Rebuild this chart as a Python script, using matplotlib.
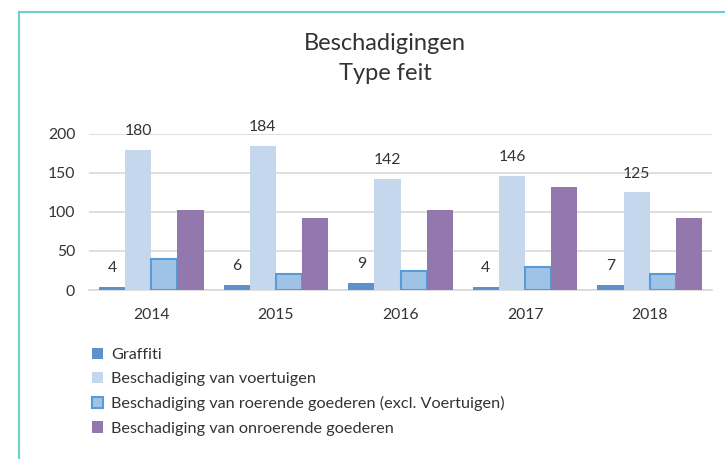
import numpy as np
import matplotlib
matplotlib.use('Agg')
import matplotlib.pyplot as plt
from matplotlib.lines import Line2D
from matplotlib.patches import Patch

plt.rcParams['font.family'] = ['Lato', 'DejaVu Sans']

# Data
years = ['2014', '2015', '2016', '2017', '2018']
graffiti = [4, 6, 9, 4, 7]
voertuigen = [180, 184, 142, 146, 125]
roerend = [40, 20, 25, 30, 20]
onroerend = [102, 92, 102, 132, 92]

series_names = ['Graffiti',
                'Beschadiging van voertuigen',
                'Beschadiging van roerende goederen (excl. Voertuigen)',
                'Beschadiging van onroerende goederen']

c_graf = '#5b92cb'
c_voer = '#c4d7ec'
c_roer = '#9fc2e7'
c_roer_edge = '#5b9bd5'
c_onr = '#9378ae'
text_c = '#333333'

fig = plt.figure(figsize=(7.25, 4.59), dpi=100)
W, H = 725, 459
ax = fig.add_axes([89 / W, (H - 290) / H, (712 - 89) / W, (290 - 134) / H])

x = np.arange(len(years))
w = 0.21
b1 = ax.bar(x - 1.5 * w, graffiti, w, color=c_graf, zorder=3)
b2 = ax.bar(x - 0.5 * w, voertuigen, w, color=c_voer, zorder=3)
b3 = ax.bar(x + 0.5 * w, roerend, w, color=c_roer, edgecolor=c_roer_edge,
            linewidth=1.5, zorder=3)
b4 = ax.bar(x + 1.5 * w, onroerend, w, color=c_onr, zorder=3)

# data labels on first two series
for bars, vals in [(b1, graffiti), (b2, voertuigen)]:
    for rect, v in zip(bars, vals):
        ax.annotate(str(v), (rect.get_x() + rect.get_width() / 2, v),
                    xytext=(0, 19), textcoords='offset pixels',
                    ha='center', va='center', fontsize=11.3, color=text_c,
                    annotation_clip=False)

ax.set_ylim(0, 200)
ax.set_xlim(-0.5, len(years) - 0.5)
ax.set_yticks([0, 50, 100, 150, 200])
ax.set_xticks(x)
ax.set_xticklabels(years)
ax.tick_params(axis='both', length=0, labelsize=11.3, labelcolor=text_c)
ax.tick_params(axis='x', pad=13)
ax.tick_params(axis='y', pad=10)
ax.yaxis.grid(True, color='#d9d9d9', linewidth=1.2, zorder=0)
ax.set_axisbelow(True)
for s in ['top', 'right', 'left']:
    ax.spines[s].set_visible(False)
ax.spines['bottom'].set_color('#d9d9d9')
ax.spines['bottom'].set_linewidth(1.2)

# title
fig.text(385 / W, 1 - 44 / H, 'Beschadigingen', ha='center', va='center',
         fontsize=17, color=text_c)
fig.text(385 / W, 1 - 73 / H, 'Type feit', ha='center', va='center',
         fontsize=17, color=text_c)

# legend
handles = [Patch(facecolor=c_graf),
           Patch(facecolor=c_voer),
           Patch(facecolor=c_roer, edgecolor=c_roer_edge, linewidth=1.5),
           Patch(facecolor=c_onr)]
fig.legend(handles, series_names, loc='upper left',
           bbox_to_anchor=(77 / W, 1 - 333 / H), frameon=False,
           fontsize=11.7, labelcolor=text_c, handlelength=0.68,
           handleheight=0.68, handletextpad=0.5, labelspacing=0.62)

# frame lines
fig.add_artist(Line2D([19 / W, 1], [1 - 12 / H, 1 - 12 / H],
                      color='#6ccfd0', linewidth=1.5))
fig.add_artist(Line2D([19 / W, 19 / W], [0, 1 - 12 / H],
                      color='#6ccfd0', linewidth=1.5))

fig.savefig('out.png', dpi=100)
